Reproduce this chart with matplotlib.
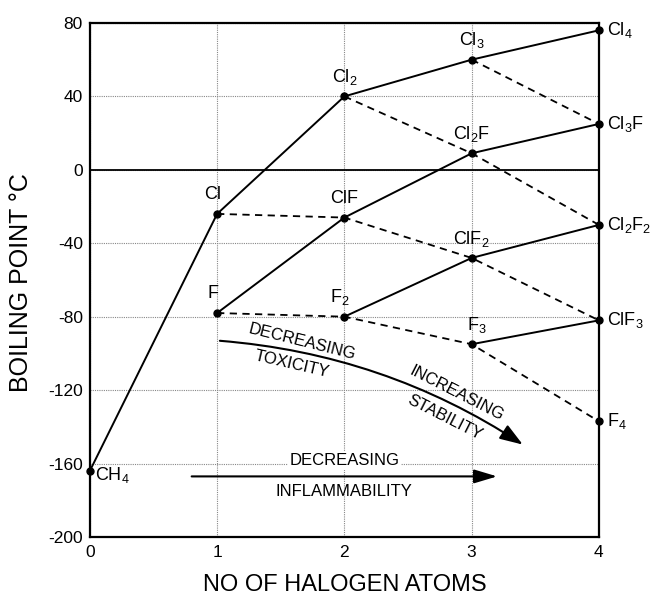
import matplotlib
matplotlib.use("Agg")
from matplotlib import pyplot as plt
from matplotlib.patches import FancyArrowPatch

plt.rcParams['font.family'] = ['Liberation Sans', 'DejaVu Sans']
plt.rcParams['mathtext.default'] = 'regular'
plt.rcParams['axes.unicode_minus'] = False

# compounds (halogen part of the formula) and their values
compounds = ["CH4", "Cl", "F", "Cl2", "ClF", "F2", "Cl3", "Cl2F", "ClF2", "F3",
             "Cl4", "Cl3F", "Cl2F2", "ClF3", "F4"]
n_halogen = [0, 1, 1, 2, 2, 2, 3, 3, 3, 3, 4, 4, 4, 4, 4]
boiling_pt = [-164, -24, -78, 40, -26, -80, 60, 9, -48, -95, 76, 25, -30, -82, -137]
labels = ["CH$_4$", "Cl", "F", "Cl$_2$", "ClF", "F$_2$", "Cl$_3$", "Cl$_2$F", "ClF$_2$", "F$_3$",
          "Cl$_4$", "Cl$_3$F", "Cl$_2$F$_2$", "ClF$_3$", "F$_4$"]

# chlorine substitution (solid) and fluorine substitution (dashed) series
solid_series = [["CH4", "Cl", "Cl2", "Cl3", "Cl4"], ["F", "ClF", "Cl2F", "Cl3F"],
                ["F2", "ClF2", "Cl2F2"], ["F3", "ClF3"]]
dashed_series = [["Cl", "ClF", "ClF2", "ClF3"], ["Cl2", "Cl2F", "Cl2F2"],
                 ["Cl3", "Cl3F"], ["F", "F2", "F3", "F4"]]

x_ticks = [0, 1, 2, 3, 4]
y_ticks = [-200, -160, -120, -80, -40, 0, 40, 80]

pos = {c: (n_halogen[i], boiling_pt[i]) for i, c in enumerate(compounds)}

fig = plt.figure(figsize=(6.51, 5.95), dpi=100)
ax = fig.add_axes([0.138, 0.0975, 0.782, 0.8639])
ax.set_xlim(0, 4)
ax.set_ylim(-200, 80)
ax.set_xticks(x_ticks)
ax.set_yticks(y_ticks)
ax.tick_params(length=0, labelsize=12.5)
ax.tick_params(axis='x', pad=6)
ax.tick_params(axis='y', pad=5)
ax.grid(True, linestyle=(0, (1, 1)), color='#888888', linewidth=0.8)
ax.axhline(0, color='black', linewidth=1.3, zorder=2)
for s in ax.spines.values():
    s.set_linewidth(1.6)

for chain in solid_series:
    ax.plot([pos[c][0] for c in chain], [pos[c][1] for c in chain],
            color='black', linewidth=1.4, zorder=3, clip_on=False)
for chain in dashed_series:
    ax.plot([pos[c][0] for c in chain], [pos[c][1] for c in chain],
            color='black', linewidth=1.3, linestyle=(0, (4, 3)), zorder=3, clip_on=False)

ax.plot(n_halogen, boiling_pt, 'o', color='black', markersize=5, zorder=4, clip_on=False)

# label placement (offset points)
for i, c in enumerate(compounds):
    x, y = pos[c]
    if x == 4:
        ax.annotate(labels[i], (x, y), xytext=(6, 0), textcoords='offset points',
                    ha='left', va='center', fontsize=13)
    elif x == 0:
        ax.annotate(labels[i], (x, y), xytext=(4, -3), textcoords='offset points',
                    ha='left', va='center', fontsize=13)
    else:
        dx = -3 if c in ("Cl", "F", "F2") else (4 if c == "F3" else 0)
        ax.annotate(labels[i], (x, y), xytext=(dx, 14), textcoords='offset points',
                    ha='center', va='center', fontsize=13)

# curved arrow: toxicity / stability
curve = FancyArrowPatch((1.0, -93), (3.42, -150.5), connectionstyle="arc3,rad=-0.13",
                        arrowstyle="-|>,head_length=1.0,head_width=0.35", mutation_scale=14,
                        color='black', linewidth=1.5, zorder=3)
ax.add_patch(curve)
ax.text(1.67, -93.5, "DECREASING", rotation=-14, ha='center', va='center', fontsize=12)
ax.text(1.59, -106, "TOXICITY", rotation=-13, ha='center', va='center', fontsize=12)
ax.text(2.88, -122, "INCREASING", rotation=-27, ha='center', va='center', fontsize=12)
ax.text(2.79, -135, "STABILITY", rotation=-27, ha='center', va='center', fontsize=12)

# straight arrow: inflammability
ax.annotate("", xy=(3.2, -167), xytext=(0.8, -167),
            arrowprops=dict(arrowstyle="-|>,head_length=1.0,head_width=0.3", mutation_scale=14,
                            color='black', linewidth=1.5, shrinkA=0, shrinkB=0))
ax.text(2.0, -158.5, "DECREASING", ha='center', va='center', fontsize=12,
        bbox=dict(facecolor='white', edgecolor='none', pad=1))
ax.text(2.0, -175, "INFLAMMABILITY", ha='center', va='center', fontsize=12)

fig.text(345 / 651, 1 - 585 / 595, "NO OF HALOGEN ATOMS", fontsize=17,
         ha='center', va='center')
fig.text(21 / 651, 1 - 283 / 595, "BOILING POINT \u00b0C", fontsize=18, rotation=90,
         ha='center', va='center')

fig.savefig("out.png", dpi=100)
